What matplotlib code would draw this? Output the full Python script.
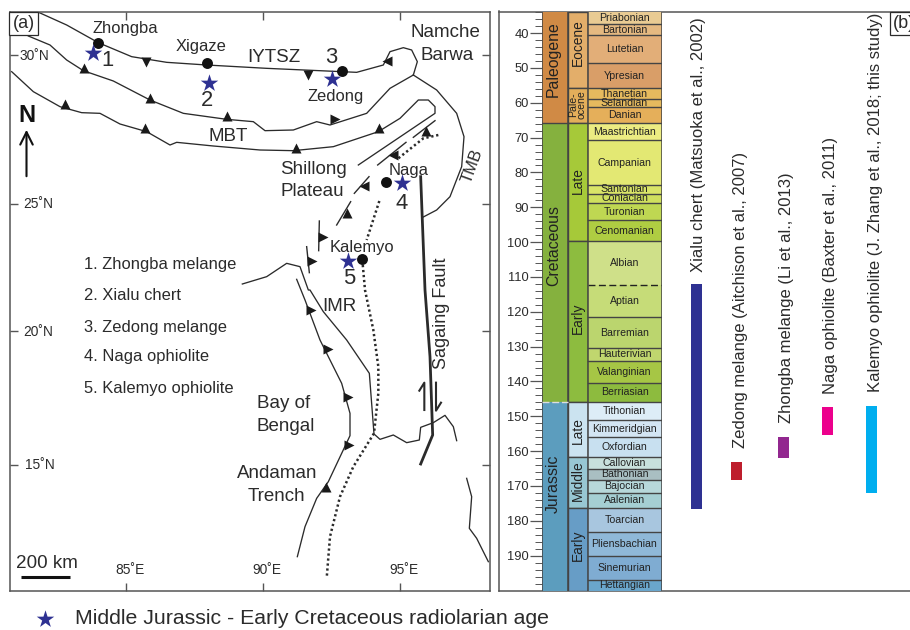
import matplotlib

matplotlib.use("Agg")
import matplotlib.pyplot as plt
import numpy as np

plt.rcParams["font.family"] = ["Liberation Sans", "DejaVu Sans"]

W, H = 910, 630
INK = "#2b2b2b"
FRAME = "#555555"

# stratigraphic column, ages in Ma
stage_names = [
    "Priabonian", "Bartonian", "Lutetian", "Ypresian", "Thanetian", "Selandian", "Danian",
    "Maastrichtian", "Campanian", "Santonian", "Coniacian", "Turonian", "Cenomanian",
    "Albian", "Aptian", "Barremian", "Hauterivian", "Valanginian", "Berriasian",
    "Tithonian", "Kimmeridgian", "Oxfordian", "Callovian", "Bathonian", "Bajocian", "Aalenian",
    "Toarcian", "Pliensbachian", "Sinemurian", "Hettangian",
]
stage_base = [
    37.4, 40.6, 48.7, 55.9, 58.9, 61.2, 65.7,
    70.8, 83.6, 86.1, 88.8, 93.7, 99.7,
    112.2, 121.6, 130.3, 134.2, 140.5, 145.8,
    151.2, 156.0, 161.8, 165.0, 168.2, 172.0, 176.3,
    183.2, 190.0, 197.0, 200.0,
]
stage_colors = [
    "#e9cb93", "#e5b981", "#e2ae78", "#d99e68", "#e5ba5e", "#e5ba5e", "#e5af5a",
    "#ecec82", "#e3e873", "#d9e468", "#cfdf5e", "#bfd752", "#afcd42",
    "#cfe089", "#c6dc78", "#bbd56e", "#c0d66e", "#a6c645", "#8dbb3e",
    "#ddedf7", "#d3e5f3", "#c8e0f0", "#c8e0dc", "#a9bfc2", "#b7d8da", "#a5cfd3",
    "#a8c6df", "#8fb8d8", "#7facd2", "#6aa6cc",
]
epoch_names = ["Eocene", "Pale-\nocene", "Late", "Early", "Late", "Middle", "Early"]
epoch_top = [33.8, 55.9, 65.7, 99.7, 145.8, 161.8, 176.3]
epoch_base = [55.9, 65.7, 99.7, 145.8, 161.8, 176.3, 200.0]
epoch_colors = ["#e3ae6a", "#e3ae5a", "#a6c939", "#8dbc3f", "#cbe3f0", "#98c7d3", "#679dc6"]
epoch_label_age = [42.7, 60.5, 82.4, 122.0, 154.0, 168.5, 187.0]
period_names = ["Paleogene", "Cretaceous", "Jurassic"]
period_top = [33.8, 65.7, 145.8]
period_base = [65.7, 145.8, 200.0]
period_colors = ["#d08a45", "#85b13e", "#5c9dbe"]
period_label_age = [47.6, 101.0, 169.5]
age_ticks = [40, 50, 60, 70, 80, 90, 100, 110, 120, 130, 140, 150, 160, 170, 180, 190]

# radiolarian age ranges
range_labels = [
    "Xialu chert (Matsuoka et al., 2002)",
    "Zedong melange (Aitchison et al., 2007)",
    "Zhongba melange (Li et al., 2013)",
    "Naga ophiolite (Baxter et al., 2011)",
    "Kalemyo ophiolite (J. Zhang et al., 2018; this study)",
]
range_top = [112.0, 163.0, 155.8, 147.4, 147.0]
range_base = [176.5, 168.2, 162.0, 155.5, 171.9]
range_colors = ["#2e3192", "#be1e2d", "#92278f", "#ec008c", "#00aeef"]
range_x = [696, 736, 784, 828, 872]
range_label_x = [698, 740, 787, 831, 876]
range_label_base = [272, 448, 423, 394, 392]

# map traces, digitised in 3x pixel units
tsangpo_north = [(118, 38), (200, 75), (295, 128), (395, 170), (500, 187), (620, 195), (800, 205),
                 (1025, 215), (1070, 217), (1150, 195), (1170, 155), (1210, 143), (1235, 150),
                 (1252, 185), (1240, 225)]
tsangpo_south = [(85, 108), (150, 135), (200, 180), (250, 212), (340, 243), (450, 300), (550, 340),
                 (680, 358), (760, 365), (795, 392), (880, 390), (950, 365), (990, 375),
                 (1100, 340), (1170, 265), (1240, 225)]
mbt = [(35, 215), (100, 275), (180, 320), (245, 338), (300, 340), (360, 372), (440, 395),
       (510, 435), (530, 427), (640, 438), (780, 450), (880, 452), (1000, 440), (1135, 395),
       (1200, 355), (1255, 300), (1285, 300), (1305, 320), (1305, 340), (1075, 495)]
tmb = [(1240, 225), (1310, 270), (1370, 340), (1392, 410), (1385, 500), (1350, 590),
       (1310, 630), (1268, 652)]
imr = [(727, 852), (800, 830), (860, 790), (900, 800), (925, 870), (930, 870), (970, 935),
       (1040, 1020), (1108, 1120), (1118, 1250), (1122, 1302), (1140, 1318), (1180, 1305),
       (1220, 1328), (1258, 1320), (1262, 1282), (1300, 1268), (1335, 1246), (1360, 1280),
       (1370, 1322)]
trench = [(890, 838), (915, 900), (960, 1020), (1025, 1150), (1050, 1240), (1050, 1307),
          (985, 1445), (950, 1495), (915, 1580), (892, 1670)]
east_coast = [(1400, 1435), (1415, 1490), (1408, 1585), (1430, 1615), (1465, 1685)]
thrust_segments = [
    [(1305, 362), (1240, 412)], [(1218, 427), (1133, 495)], [(1107, 530), (1063, 580)],
    [(1052, 605), (1010, 675)], [(958, 663), (956, 752)], [(920, 740), (928, 818)],
]
dotted_north = [(1315, 405), (1270, 415), (1195, 475)]
dotted_mid = [(1138, 603), (1100, 720)]
dotted_south = [(1087, 780), (1095, 870), (1120, 990), (1135, 1100), (1135, 1180), (1122, 1300),
                (1060, 1400), (1020, 1490), (990, 1610), (980, 1735)]
sagaing = [(1262, 530), (1275, 870), (1290, 1070), (1298, 1305), (1262, 1392)]
sense_up = [(1273, 1230), (1273, 1148), (1258, 1172)]
sense_down = [(1308, 1148), (1308, 1232), (1323, 1208)]

teeth_up = [(253, 205), (450, 295), (682, 348), (195, 313), (435, 385), (888, 443), (1137, 385),
            (1278, 392), (1040, 640), (978, 1462)]
teeth_down = [(437, 187), (925, 225)]
teeth_left = [(1160, 183), (1180, 465), (1093, 557)]
teeth_right = [(1005, 358), (968, 710), (935, 783), (932, 930), (985, 1047), (1045, 1190),
               (1047, 1335)]

site_dots = [(295, 129), (620, 188), (1027, 214), (1157, 546), (1087, 777)]
site_stars = [(280, 160), (626, 248), (997, 238), (1205, 548), (1045, 782)]

lon_ticks = [126, 263, 400]
lon_labels = ["85˚E", "90˚E", "95˚E"]
lat_ticks = [55, 203.5, 331, 464.5]
lat_labels = ["30˚N", "25˚N", "20˚N", "15˚N"]

map_labels = [
    ("Zhongba", 278, 85, 11.9), ("Xigaze", 526, 140, 11.9), ("IYTSZ", 742, 172, 13.5),
    ("Namche", 1230, 97, 13.5), ("Barwa", 1262, 166, 13.5), ("Zedong", 924, 290, 11.9),
    ("MBT", 625, 410, 13.5), ("Shillong", 840, 507, 13.5), ("Plateau", 840, 576, 13.5),
    ("Naga", 1165, 510, 11.9), ("Kalemyo", 990, 743, 11.9), ("IMR", 968, 920, 13.5),
    ("Bay of", 770, 1212, 13.5), ("Bengal", 770, 1280, 13.5), ("Andaman", 710, 1421, 13.5),
    ("Trench", 742, 1489, 13.5), ("1", 305, 182, 15.8), ("2", 604, 302, 15.8), ("3", 976, 172, 15.8),
    ("4", 1185, 610, 15.8), ("5", 1030, 836, 15.8), ("200 km", 47, 1692, 13.6),
]
list_labels = ["1. Zhongba melange", "2. Xialu chert", "3. Zedong melange",
               "4. Naga ophiolite", "5. Kalemyo ophiolite"]
list_y = [792, 885, 982, 1070, 1166]


def xy(points):
    arr = np.array(points, dtype=float) / 3
    return arr[:, 0], arr[:, 1]


def px_axes(left, top, right, bottom, **kw):
    return fig.add_axes([left / W, 1 - bottom / H, (right - left) / W, (bottom - top) / H], **kw)


fig = plt.figure(figsize=(W / 100, H / 100), dpi=100)

# ----- panel (a): map -----
ax = px_axes(10, 12, 490, 590.5)
ax.set_xlim(10, 490)
ax.set_ylim(590.5, 12)
for side in ax.spines.values():
    side.set_color(FRAME)
    side.set_linewidth(1.1)

ax.set_xticks(lon_ticks, labels=[])
ax.set_yticks(lat_ticks, labels=[])
ax.tick_params(direction="in", length=6, width=1, color=FRAME, top=True, right=True)

for line in [tsangpo_north, tsangpo_south, mbt, tmb, imr, trench, east_coast]:
    ax.plot(*xy(line), color=INK, lw=0.95)
for seg in thrust_segments:
    ax.plot(*xy(seg), color=INK, lw=1.0)
for line in [dotted_north, dotted_mid, dotted_south]:
    ax.plot(*xy(line), color=INK, lw=1.8, ls=(0, (0.9, 1.1)))
ax.plot(*xy(sagaing), color=INK, lw=2.0)
ax.plot(*xy(sense_up), color=INK, lw=1.5)
ax.plot(*xy(sense_down), color=INK, lw=1.5)

for pts, mk in [(teeth_up, "^"), (teeth_down, "v"), (teeth_left, "<"), (teeth_right, ">")]:
    ax.scatter(*xy(pts), marker=mk, s=52, color="#1a1a1a", linewidths=0, zorder=3)
ax.scatter(*xy(site_dots), s=62, color="#111111", linewidths=0, zorder=4)
ax.scatter(*xy(site_stars), marker="*", s=175, color="#2e3192", linewidths=0, zorder=5)

for x, label in zip(lon_ticks, lon_labels):
    ax.text(x + 4, 570, label, ha="center", va="center", fontsize=9.9, color=INK)
for y, label, dx in zip(lat_ticks, lat_labels, [20, 23, 23, 25]):
    ax.text(dx, y + 0.5, label, ha="left", va="center", fontsize=9.9, color=INK)
for label, x, y, size in map_labels:
    ax.text(x / 3, y / 3, label, ha="left", va="center", fontsize=size, color=INK)
for label, y in zip(list_labels, list_y):
    ax.text(84, y / 3, label, ha="left", va="center", fontsize=11.9, color=INK)
ax.text(441, 313, "Sagaing Fault", rotation=90, ha="center", va="center", fontsize=13, color=INK)
ax.text(472, 166, "TMB", rotation=70, ha="center", va="center", fontsize=12, color=INK)

# north arrow and scale bar
ax.text(27, 116, "N", ha="center", va="center", fontsize=17, fontweight="bold", color="#111111")
ax.annotate("", xy=(26.5, 127), xytext=(26.5, 179),
            arrowprops=dict(arrowstyle="->,head_length=0.9,head_width=0.45", color="#111111", lw=1.5))
ax.plot([21, 70], [576.5, 576.5], color="#111111", lw=2.2, solid_capstyle="butt")

ax.text(23.5, 23.5, "(a)", ha="center", va="center", fontsize=13, color=INK,
        bbox=dict(boxstyle="square,pad=0.18", fc="white", ec=INK, lw=0.9))

# legend line under the map
ax.scatter([45], [619], marker="*", s=175, color="#2e3192", linewidths=0, clip_on=False)
ax.text(75, 619, "Middle Jurassic - Early Cretaceous radiolarian age", ha="left", va="center",
        fontsize=15.35, color=INK, clip_on=False)

# ----- panel (b): frame, age ranges -----
age_top, age_bottom = 33.8, 200.0
axb = px_axes(498.5, 11.5, 912, 590.5)
axb.set_xlim(498.5, 912)
axb.set_ylim(age_bottom, age_top)
axb.set_xticks([])
axb.set_yticks([])
for side in axb.spines.values():
    side.set_color(FRAME)
    side.set_linewidth(1.1)

axb.bar(range_x, np.array(range_base) - np.array(range_top), bottom=range_top, width=11,
        color=range_colors, linewidth=0)
for label, x, y in zip(range_labels, range_label_x, range_label_base):
    age = age_top + (y - 11.5) / 579 * (age_bottom - age_top)
    axb.text(x, age, label, rotation=90, ha="center", va="bottom", fontsize=12, color=INK)
axb.text(904, 33.8 + (23.5 - 11.5) / 579 * 166.2, "(b)", ha="center", va="center", fontsize=13,
         color=INK, bbox=dict(boxstyle="square,pad=0.18", fc="white", ec=INK, lw=0.9))

# ----- stratigraphic column -----
col = px_axes(541.5, 11.5, 661.5, 590.5)
col.set_xlim(541.5, 661.5)
col.set_ylim(age_bottom, age_top)
col.set_xticks([])
col.set_yticks(age_ticks)
col.set_yticks(np.arange(34, 200, 2), minor=True)
col.tick_params(axis="y", which="major", length=9, width=0.9, color=FRAME, labelsize=9.3,
                labelcolor=INK, pad=0)
col.tick_params(axis="y", which="minor", length=5, width=0.7, color=FRAME)
for side in col.spines.values():
    side.set_visible(False)

X_PERIOD, X_EPOCH, X_STAGE, X_END = 541.5, 567.7, 587.7, 661.5
EDGE = "#444444"

for name, top, base, color, mid in zip(period_names, period_top, period_base, period_colors,
                                       period_label_age):
    col.barh((top + base) / 2, X_EPOCH - X_PERIOD, height=base - top, left=X_PERIOD, color=color,
             linewidth=0)
    col.text(553.5, mid, name, rotation=90, ha="center", va="center", fontsize=11.4, color="#222222")

for name, top, base, color, mid in zip(epoch_names, epoch_top, epoch_base, epoch_colors,
                                       epoch_label_age):
    col.barh((top + base) / 2, X_STAGE - X_EPOCH, height=base - top, left=X_EPOCH, color=color,
             edgecolor=EDGE, linewidth=1.0)
    size = 7.6 if "\n" in name else 9.9
    col.text(577.5, mid, name, rotation=90, ha="center", va="center", fontsize=size, color="#222222",
             linespacing=0.8)

tops = [33.8] + stage_base[:-1]
for name, top, base, color in zip(stage_names, tops, stage_base, stage_colors):
    col.barh((top + base) / 2, X_END - X_STAGE, height=base - top, left=X_STAGE, color=color,
             linewidth=0)
    col.text(624.5, (top + base) / 2, name, ha="center", va="center", fontsize=7.6, color="#222222",
             clip_on=False)
    if name == "Albian":
        col.plot([X_STAGE, X_END], [base, base], color="#222222", lw=1.0, ls=(0, (5, 2.5)))
    elif name != "Hettangian":
        col.plot([X_STAGE, X_END], [base, base], color=EDGE, lw=1.0)

col.plot([X_PERIOD, X_PERIOD], [age_top, age_bottom], color=EDGE, lw=1.1)
col.plot([X_EPOCH, X_EPOCH], [age_top, age_bottom], color=EDGE, lw=1.1)
col.plot([X_STAGE, X_STAGE], [age_top, age_bottom], color=EDGE, lw=1.1)
col.plot([X_END, X_END], [age_top, age_bottom], color=EDGE, lw=1.1)
col.plot([X_PERIOD, X_EPOCH], [65.7, 65.7], color=EDGE, lw=1.0)
col.plot([X_PERIOD, X_EPOCH], [145.8, 145.8], color="#dddddd", lw=1.0, ls=(0, (5, 2)))

fig.savefig("out.png", dpi=100)
